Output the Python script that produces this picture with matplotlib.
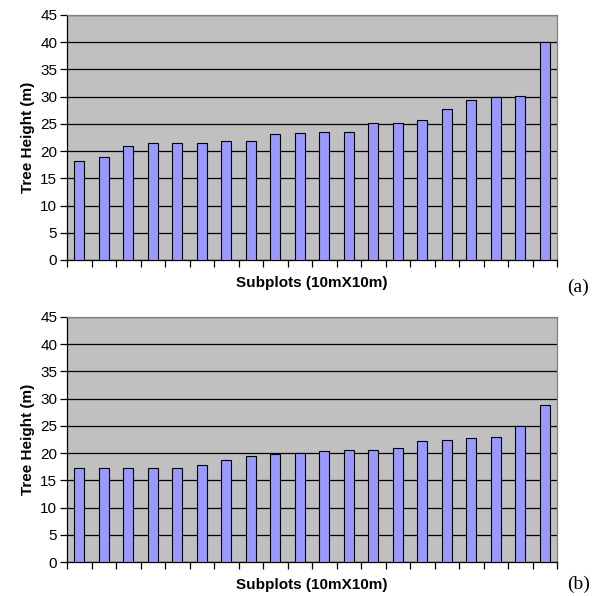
import matplotlib
matplotlib.use("Agg")
import matplotlib.pyplot as plt
import numpy as np

# Tree heights per subplot
heights_a = [18.2, 19.0, 20.9, 21.4, 21.4, 21.4, 21.8, 21.8, 23.1, 23.3,
             23.6, 23.6, 25.1, 25.1, 25.8, 27.8, 29.3, 30.0, 30.2, 40.0]
heights_b = [17.2, 17.2, 17.2, 17.2, 17.2, 17.8, 18.8, 19.4, 19.9, 20.0,
             20.4, 20.6, 20.5, 21.0, 22.3, 22.5, 22.7, 23.0, 25.0, 28.9]
panel_tags = ["(a)", "(b)"]
y_ticks = [0, 5, 10, 15, 20, 25, 30, 35, 40, 45]

plt.rcParams.update({
    "font.family": ["Liberation Sans", "DejaVu Sans"],
    "font.size": 11,
})

fig = plt.figure(figsize=(6.0, 5.96), dpi=100)
axes_pos = [
    [67 / 600, 1 - 260 / 596, 490 / 600, 245 / 596],
    [67 / 600, 1 - 562 / 596, 490 / 600, 245 / 596],
]
tag_y = [-0.11, -0.09]

for pos, heights, tag, ty in zip(axes_pos, [heights_a, heights_b], panel_tags, tag_y):
    ax = fig.add_axes(pos)
    n = len(heights)
    x = np.arange(n)
    ax.set_facecolor("#C0C0C0")
    ax.set_axisbelow(True)
    ax.yaxis.grid(True, color="black", linewidth=0.9)
    ax.bar(x, heights, width=0.42, color="#9999FF", edgecolor="black", linewidth=0.8, zorder=3)

    ax.set_xlim(-0.5, n - 0.5)
    ax.set_ylim(0, 45)
    ax.set_yticks(y_ticks)
    ax.set_xticks(np.arange(-0.5, n, 1.0))
    ax.set_xticklabels([])
    ax.tick_params(axis="x", direction="out", length=5, width=0.9, color="black")
    ax.tick_params(axis="y", direction="out", length=5, width=0.9, labelsize=11, pad=2)

    for side in ["top", "right"]:
        ax.spines[side].set_color("#808080")
        ax.spines[side].set_linewidth(0.9)
    for side in ["left", "bottom"]:
        ax.spines[side].set_color("black")
        ax.spines[side].set_linewidth(0.9)

    ax.set_ylabel("Tree Height (m)", fontsize=11, fontweight="bold", labelpad=4)
    ax.set_xlabel("Subplots (10mX10m)", fontsize=11, fontweight="bold", labelpad=3)
    ax.text(1.02, ty, tag, transform=ax.transAxes, fontsize=14,
            family=["Liberation Serif", "DejaVu Serif"], ha="left", va="center")

fig.savefig("out.png", dpi=100)
plt.close(fig)
